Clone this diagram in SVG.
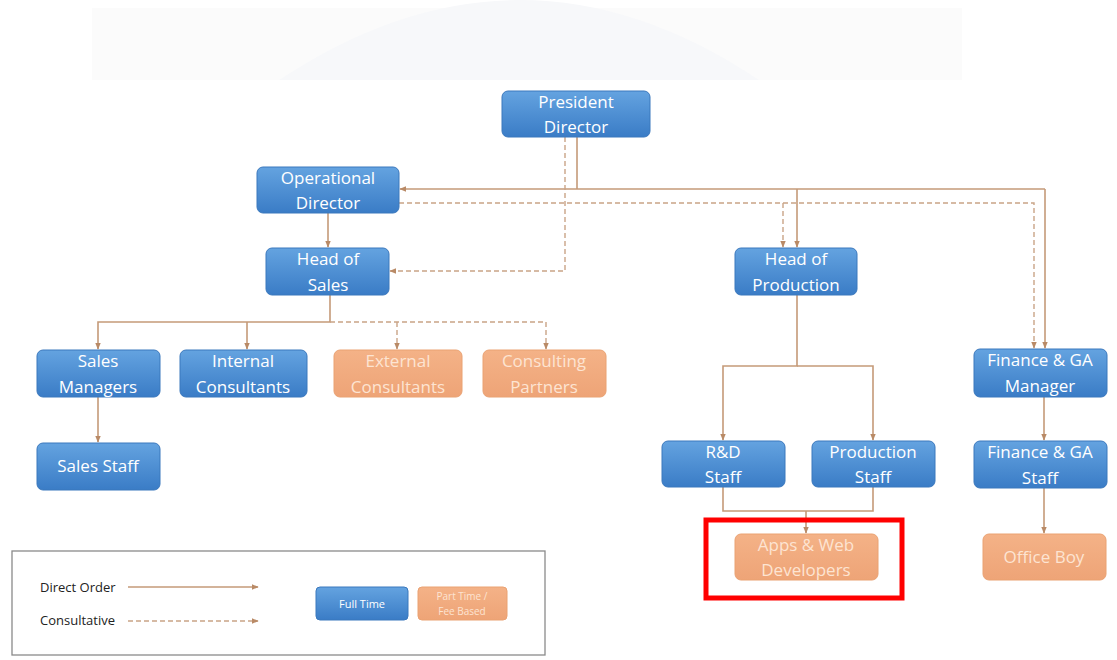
<svg xmlns="http://www.w3.org/2000/svg" width="1117" height="660" viewBox="0 0 1117 660">
<defs>
<linearGradient id="gb" x1="0" y1="0" x2="0" y2="1">
<stop offset="0" stop-color="#64a3e0"/>
<stop offset="1" stop-color="#3a7cc6"/>
</linearGradient>
<linearGradient id="go" x1="0" y1="0" x2="0" y2="1">
<stop offset="0" stop-color="#f4b287"/>
<stop offset="1" stop-color="#eea477"/>
</linearGradient>
<marker id="ah" viewBox="0 0 10 10" refX="9" refY="5" markerWidth="7" markerHeight="7" orient="auto" markerUnits="userSpaceOnUse">
<path d="M0,1 L10,5 L0,9 z" fill="#b98a66"/>
</marker>
</defs>
<style>
.blue{fill:url(#gb);stroke:#3b78bd;stroke-width:1}
.orange{fill:url(#go);stroke:#eaa273;stroke-width:1}
.t{font-family:"Open Sans","Liberation Sans",sans-serif;font-size:17px;fill:#ffffff;text-anchor:middle}
.to{font-family:"Open Sans","Liberation Sans",sans-serif;font-size:17px;fill:#fde4d2;text-anchor:middle}
.s{fill:none;stroke:#c59a78;stroke-width:1.6}
.d{fill:none;stroke:#c9a487;stroke-width:1.4;stroke-dasharray:5 3}
.lg{font-family:"Open Sans","Liberation Sans",sans-serif;font-size:13px;fill:#222}
</style>
<rect width="1117" height="660" fill="#ffffff"/>
<g id="banner">
<rect x="92" y="8" width="870" height="72" fill="#fbfbfb"/>
<path d="M279,80 Q520,-80 759,80 Z" fill="#f7f8fa"/>
</g>
<g id="connectors">
<!-- President solid -->
<polyline class="s" points="577,137 577,189"/>
<polyline class="s" points="1045,189 400,189" marker-end="url(#ah)"/>
<polyline class="s" points="1045,189 1045,348" marker-end="url(#ah)"/>
<polyline class="s" points="797,189 797,247" marker-end="url(#ah)"/>
<!-- President dashed to Head of Sales -->
<polyline class="d" points="565,137 565,271 390,271" marker-end="url(#ah)"/>
<!-- Operational Director dashed -->
<polyline class="d" points="399,203 1034,203 1034,348" marker-end="url(#ah)"/>
<polyline class="d" points="783,203 783,247" marker-end="url(#ah)"/>
<!-- Operational Director to Head of Sales -->
<polyline class="s" points="328,213 328,247" marker-end="url(#ah)"/>
<!-- Head of Sales -->
<polyline class="s" points="330,295 330,322 98,322 98,349" marker-end="url(#ah)"/>
<polyline class="s" points="247,322 247,349" marker-end="url(#ah)"/>
<polyline class="d" points="330,322 546,322 546,349" marker-end="url(#ah)"/>
<polyline class="d" points="397,322 397,349" marker-end="url(#ah)"/>
<polyline class="s" points="98,397 98,442" marker-end="url(#ah)"/>
<!-- Head of Production -->
<polyline class="s" points="797,295 797,366 723,366 723,440" marker-end="url(#ah)"/>
<polyline class="s" points="797,366 873,366 873,440" marker-end="url(#ah)"/>
<polyline class="s" points="723,487 723,511 873,511 873,487"/>
<polyline class="s" points="806,511 806,533" marker-end="url(#ah)"/>
<!-- Finance -->
<polyline class="s" points="1044,397 1044,440" marker-end="url(#ah)"/>
<polyline class="s" points="1044,488 1044,533" marker-end="url(#ah)"/>
</g>
<g id="president"><rect class="blue" x="502" y="91" width="148" height="46" rx="6"/><text class="t" x="576" y="108">President</text><text class="t" x="576" y="133">Director</text></g>
<g id="operational"><rect class="blue" x="257" y="167" width="142" height="46" rx="6"/><text class="t" x="328" y="184">Operational</text><text class="t" x="328" y="209">Director</text></g>
<g id="head-sales"><rect class="blue" x="266" y="248" width="123" height="47" rx="6"/><text class="t" x="328" y="265">Head of</text><text class="t" x="328" y="291">Sales</text></g>
<g id="head-production"><rect class="blue" x="735" y="248" width="122" height="47" rx="6"/><text class="t" x="796" y="265">Head of</text><text class="t" x="796" y="291">Production</text></g>
<g id="sales-managers"><rect class="blue" x="37" y="350" width="123" height="47" rx="6"/><text class="t" x="98" y="367">Sales</text><text class="t" x="98" y="393">Managers</text></g>
<g id="internal"><rect class="blue" x="180" y="350" width="127" height="47" rx="6"/><text class="t" x="243" y="367">Internal</text><text class="t" x="243" y="393">Consultants</text></g>
<g id="external"><rect class="orange" x="334" y="350" width="128" height="47" rx="6"/><text class="to" x="398" y="367">External</text><text class="to" x="398" y="393">Consultants</text></g>
<g id="partners"><rect class="orange" x="483" y="350" width="123" height="47" rx="6"/><text class="to" x="544" y="367">Consulting</text><text class="to" x="544" y="393">Partners</text></g>
<g id="sales-staff"><rect class="blue" x="37" y="443" width="123" height="47" rx="6"/><text class="t" x="98" y="472">Sales Staff</text></g>
<g id="finance-manager"><rect class="blue" x="974" y="349" width="133" height="48" rx="6"/><text class="t" x="1040" y="366">Finance &amp; GA</text><text class="t" x="1040" y="392">Manager</text></g>
<g id="rd-staff"><rect class="blue" x="662" y="441" width="123" height="46" rx="6"/><text class="t" x="723" y="458">R&amp;D</text><text class="t" x="723" y="483">Staff</text></g>
<g id="production-staff"><rect class="blue" x="812" y="441" width="123" height="46" rx="6"/><text class="t" x="873" y="458">Production</text><text class="t" x="873" y="483">Staff</text></g>
<g id="finance-staff"><rect class="blue" x="974" y="441" width="133" height="47" rx="6"/><text class="t" x="1040" y="458">Finance &amp; GA</text><text class="t" x="1040" y="484">Staff</text></g>
<g id="apps-web"><rect class="orange" x="735" y="534" width="143" height="46" rx="6"/><text class="to" x="806" y="551">Apps &amp; Web</text><text class="to" x="806" y="576">Developers</text></g>
<g id="office-boy"><rect class="orange" x="983" y="534" width="123" height="46" rx="6"/><text class="to" x="1044" y="563">Office Boy</text></g>
<g id="highlight"><rect x="706" y="520" width="196" height="78" fill="none" stroke="#ff0000" stroke-width="5"/></g>
<g id="legend">
<rect x="12" y="551" width="533" height="104" fill="#ffffff" stroke="#8a8a8a" stroke-width="1.3"/>
<text class="lg" x="40" y="592">Direct Order</text>
<line class="s" x1="128" y1="587" x2="258" y2="587" stroke-width="1" marker-end="url(#ah)"/>
<text class="lg" x="40" y="625">Consultative</text>
<line class="d" x1="128" y1="621" x2="258" y2="621" stroke-width="1" stroke-dasharray="3 2" marker-end="url(#ah)"/>
<rect class="blue" x="316" y="587" width="92" height="33" rx="4"/>
<text x="362" y="608" font-family="Open Sans, Liberation Sans, sans-serif" font-size="11" fill="#ffffff" text-anchor="middle">Full Time</text>
<rect class="orange" x="418" y="587" width="89" height="33" rx="4"/>
<text x="462" y="600" font-family="Open Sans, Liberation Sans, sans-serif" font-size="10" fill="#fde4d2" text-anchor="middle">Part Time /</text>
<text x="462" y="615" font-family="Open Sans, Liberation Sans, sans-serif" font-size="10" fill="#fde4d2" text-anchor="middle">Fee Based</text>
</g>
</svg>
